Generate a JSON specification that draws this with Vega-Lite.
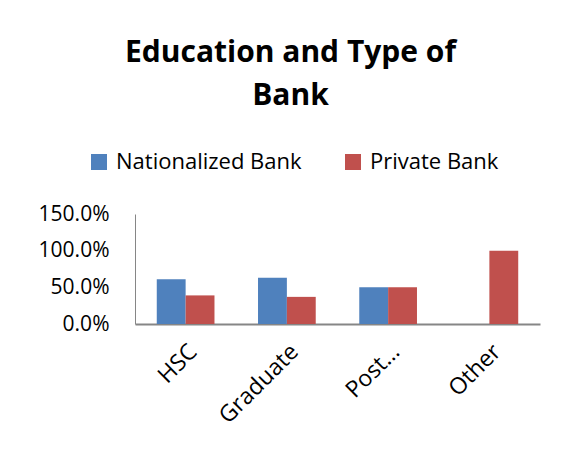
{
  "$schema": "https://vega.github.io/schema/vega-lite/v6.json",
  "width": 405,
  "height": 110,
  "autosize": "none",
  "padding": {"left": 135, "top": 214, "right": 24, "bottom": 126},
  "background": "white",
  "title": {
    "text": ["Education and Type of", "Bank"],
    "font": "Open Sans",
    "fontSize": 30,
    "fontWeight": "bold",
    "color": "black",
    "lineHeight": 43,
    "anchor": "middle",
    "dx": -47,
    "offset": 40
  },
  "data": {
    "values": [
      {"education": "HSC", "bank": "Nationalized Bank", "share": 0.61},
      {"education": "HSC", "bank": "Private Bank", "share": 0.39},
      {"education": "Graduate", "bank": "Nationalized Bank", "share": 0.63},
      {"education": "Graduate", "bank": "Private Bank", "share": 0.37},
      {"education": "Post…", "bank": "Nationalized Bank", "share": 0.5},
      {"education": "Post…", "bank": "Private Bank", "share": 0.5},
      {"education": "Other", "bank": "Nationalized Bank", "share": 0.0},
      {"education": "Other", "bank": "Private Bank", "share": 1.0}
    ]
  },
  "mark": {"type": "bar"},
  "encoding": {
    "x": {
      "field": "education",
      "type": "nominal",
      "sort": ["HSC", "Graduate", "Post…", "Other"],
      "scale": {"paddingInner": 0.43, "paddingOuter": 0.215},
      "axis": {
        "title": null,
        "labelAngle": -45,
        "labelFont": "Open Sans",
        "labelFontSize": 23,
        "labelColor": "black",
        "labelPadding": 16,
        "ticks": false,
        "domainColor": "#868686",
        "domainWidth": 2
      }
    },
    "xOffset": {
      "field": "bank",
      "type": "nominal",
      "sort": ["Nationalized Bank", "Private Bank"],
      "scale": {"paddingInner": 0, "paddingOuter": 0}
    },
    "y": {
      "field": "share",
      "type": "quantitative",
      "scale": {"domain": [0, 1.5], "nice": false},
      "axis": {
        "title": null,
        "values": [0, 0.5, 1, 1.5],
        "format": ".1%",
        "labelFont": "Open Sans",
        "labelFontSize": 21,
        "labelColor": "black",
        "labelPadding": 26,
        "ticks": false,
        "grid": false,
        "domainColor": "#868686",
        "domainWidth": 1
      }
    },
    "color": {
      "field": "bank",
      "type": "nominal",
      "sort": ["Nationalized Bank", "Private Bank"],
      "scale": {"range": ["#4F81BD", "#C0504D"]},
      "legend": {
        "title": null,
        "orient": "none",
        "direction": "horizontal",
        "legendX": -47,
        "legendY": -63,
        "symbolType": "square",
        "symbolSize": 256,
        "symbolStrokeWidth": 0,
        "labelFont": "Open Sans",
        "labelFontSize": 22,
        "labelLimit": 400,
        "labelColor": "black",
        "columnPadding": 40,
        "labelOffset": 6
      }
    }
  },
  "config": {"view": {"stroke": null}}
}
